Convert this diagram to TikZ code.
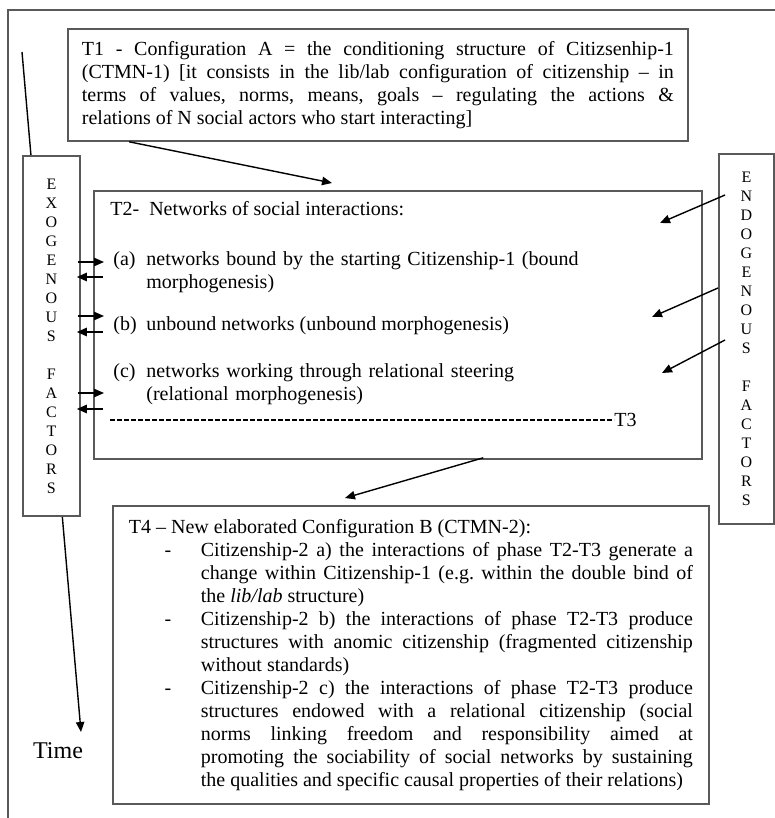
\documentclass[tikz,border=0pt]{standalone}
\usepackage{fontspec}
\setmainfont{Liberation Serif}
\usetikzlibrary{arrows.meta,calc}
\tikzset{box/.style={draw=black!65, line width=0.9pt, fill=white, inner sep=0pt, anchor=north west}}
\tikzset{sidebox/.style={box, font=\fontsize{8}{9.5}\selectfont, align=center}}
\tikzset{lbl/.style={inner sep=0pt, anchor=base west, font=\fontsize{10}{11.5}\selectfont}}
\tikzset{arr/.style={-{Triangle[length=5pt,width=4.2pt]}, line width=0.7pt}}
\newcommand{\dashitem}{\par\noindent\llap{-\hspace{14.8pt}}}
\hyphenpenalty=10000
\frenchspacing

\begin{document}
\begin{tikzpicture}[x=0.5pt, y=-0.5pt, font=\fontsize{10}{11.5}\selectfont]
\useasboundingbox (0,0) rectangle (775,818);
\draw[black!65, line width=0.9pt] (775,10) -- (8,10) -- (8,818);

% time axis (runs behind the side box)
\coordinate (tstart) at (22,52);
\coordinate (tend) at (81,732);
\draw[arr] (tstart) -- (tend);
\node[font=\fontsize{12}{14}\selectfont, anchor=base, inner sep=0pt] (time) at (58,758) {Time};

% T1
\node[box, minimum width=310pt, minimum height=56pt, text width=296pt, align=justify] (t1) at (67,28) {T1 - Configuration A = the conditioning structure of Citizsenhip-1\linebreak
(CTMN-1) [it consists in the lib/lab configuration of citizenship -- in\linebreak
terms of values, norms, means, goals -- regulating the actions \&\linebreak
relations of N social actors who start interacting]};

% side boxes
\node[sidebox, minimum width=28.5pt, minimum height=180pt] (exo) at (22,155) {E\\X\\O\\G\\E\\N\\O\\U\\S\\[9.5pt]F\\A\\C\\T\\O\\R\\S};
\node[sidebox, minimum width=27.5pt, minimum height=185pt] (endo) at (718,153) {E\\N\\D\\O\\G\\E\\N\\O\\U\\S\\[9.5pt]F\\A\\C\\T\\O\\R\\S};

% T2
\node[box, minimum width=304pt, minimum height=134pt] (t2) at (93,190) {};
\node[lbl] (t2head) at (110,215) {T2-\enspace Networks of social interactions:};
\node[lbl] (la) at (113,265) {(a)};
\node[lbl, text width=260pt, align=left] (ta) at (146,265) {networks bound by the starting Citizenship-1 (bound\\morphogenesis)};
\node[lbl] (lb) at (113,330) {(b)};
\node[lbl] (tb) at (146,330) {unbound networks (unbound morphogenesis)};
\node[lbl] (lc) at (113,377) {(c)};
\node[lbl, text width=260pt, align=left] (tc) at (146,377) {networks working through relational steering\\(relational morphogenesis)};
\coordinate (dashl) at (110,420);
\node[inner sep=0pt, anchor=west] (t3) at (614,420) {T3};
\draw[dash pattern=on 2.3pt off 1.2pt, line width=0.6pt] (dashl) -- (t3.west);

% T4
\node[box, minimum width=298pt, minimum height=149pt, text width=282pt, align=justify] (t4) at (112,505) {T4 -- New elaborated Configuration B (CTMN-2):\par\leftskip=36pt
\dashitem Citizenship-2 a) the interactions of phase T2-T3 generate a\linebreak
change within Citizenship-1 (e.g. within the double bind of\linebreak
the \emph{lib/lab} structure)
\dashitem Citizenship-2 b) the interactions of phase T2-T3 produce\linebreak
structures with anomic citizenship (fragmented citizenship\linebreak
without standards)
\dashitem Citizenship-2 c) the interactions of phase T2-T3 produce\linebreak
structures endowed with a relational citizenship (social\linebreak
norms linking freedom and responsibility aimed at\linebreak
promoting the sociability of social networks by sustaining\linebreak
the qualities and specific causal properties of their relations)\par};

% arrows between boxes
\coordinate (t2in) at (332,183);
\coordinate (t4in) at (345,498);
\draw[arr] ($(t1.south west)!0.1!(t1.south east)$) -- (t2in);
\draw[arr] ($(t2.south west)!0.64!(t2.south east)+(0,-2)$) -- (t4in);

% exogenous <-> networks
\foreach \ya/\yb in {262/277, 316/332, 393/409}{
  \draw[arr, shorten <=-1.5pt, shorten >=-5.5pt] (exo.east |- 0,\ya) -- (t2.west |- 0,\ya);
  \draw[arr, shorten <=-5pt, shorten >=-2pt] (t2.west |- 0,\yb) -- (exo.east |- 0,\yb);
}

% endogenous -> networks
\coordinate (en1) at (660,223);
\coordinate (en2) at (652,317);
\coordinate (en3) at (662,373);
\draw[arr] ([xshift=3.5pt]endo.west |- 0,195) -- (en1);
\draw[arr] (endo.west |- 0,288) -- (en2);
\draw[arr] ([xshift=3.5pt]endo.west |- 0,340) -- (en3);
\end{tikzpicture}
\end{document}
